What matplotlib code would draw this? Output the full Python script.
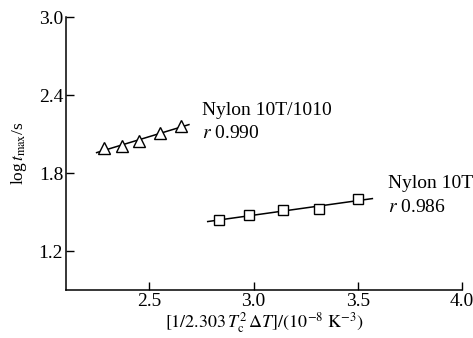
import numpy as np
import matplotlib
matplotlib.use("Agg")
import matplotlib.pyplot as plt

plt.rcParams['font.family'] = ['Liberation Serif', 'DejaVu Serif']
plt.rcParams['mathtext.fontset'] = 'stix'

# Data
x_1010 = [2.282, 2.367, 2.450, 2.550, 2.651]
y_1010 = [1.989, 2.004, 2.043, 2.105, 2.161]
fit_range_1010 = [2.247, 2.69]

x_10t = [2.835, 2.976, 3.139, 3.313, 3.503]
y_10t = [1.438, 1.474, 1.515, 1.523, 1.600]
fit_range_10t = [2.78, 3.57]

labels = ['Nylon 10T/1010', 'Nylon 10T']
r_values = ['0.990', '0.986']

xticks = [2.5, 3.0, 3.5, 4.0]
yticks = [1.2, 1.8, 2.4, 3.0]

fig = plt.figure(figsize=(4.73, 3.38), dpi=100)
ax = fig.add_axes([0.1395, 0.142, 0.9767 - 0.1395, 0.9497 - 0.142])

for xs, ys, rng, mk, ms in [(x_1010, y_1010, fit_range_1010, '^', 8),
                            (x_10t, y_10t, fit_range_10t, 's', 6.5)]:
    p = np.polyfit(xs, ys, 1)
    xx = np.array(rng)
    ax.plot(xx, np.polyval(p, xx), color='black', lw=1.1, zorder=2)
    ax.plot(xs, ys, linestyle='none', marker=mk, ms=ms, mfc='white',
            mec='black', mew=1.0, zorder=3)

fs = 14
ax.text(2.755, 2.282, labels[0], fontsize=fs, va='center', ha='left')
ax.text(2.755, 2.104, r'$r$ ' + r_values[0], fontsize=fs, va='center', ha='left')
ax.text(3.643, 1.718, labels[1], fontsize=fs, va='center', ha='left', clip_on=False)
ax.text(3.643, 1.533, r'$r$ ' + r_values[1], fontsize=fs, va='center', ha='left', clip_on=False)

ax.set_xlim(2.1, 4.0)
ax.set_ylim(0.9, 3.0)
ax.set_xticks(xticks)
ax.set_yticks(yticks)
ax.set_xticklabels([f'{v:.1f}' for v in xticks])
ax.set_yticklabels([f'{v:.1f}' for v in yticks])
ax.tick_params(direction='in', length=6, width=1.0, labelsize=14, pad=2)
for s in ['top', 'right']:
    ax.spines[s].set_visible(False)
for s in ['left', 'bottom']:
    ax.spines[s].set_linewidth(1.1)

ax.set_xlabel(r'$[1/2.303\,T_{\mathrm{c}}^{2}\,\Delta T]/(10^{-8}\ \mathrm{K}^{-3})$', fontsize=13, labelpad=0)
ax.set_ylabel(r'log$\,t_{\mathrm{max}}$/s', fontsize=12.5, labelpad=7)

fig.savefig('out.png', dpi=100)
